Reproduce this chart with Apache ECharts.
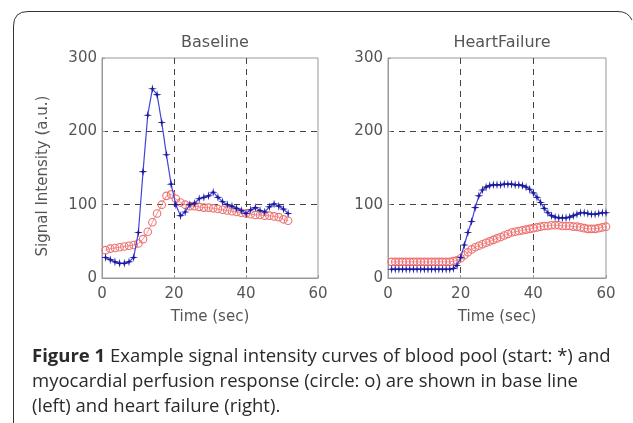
<!DOCTYPE html>
<html>
<head>
<meta charset="utf-8">
<script src="https://cdn.jsdelivr.net/npm/echarts@6/dist/echarts.min.js"></script>
<style>html,body{margin:0;padding:0;background:#fff}#c{width:633px;height:423px}</style>
</head>
<body>
<div id="c"></div>
<script>
// ---- Data ----
var xTicks = [0, 20, 40, 60];
var yTicks = [0, 100, 200, 300];

var baseTime = [1,2.3,3.6,4.9,6.2,7.5,8.8,10.1,11.4,12.7,14,15.3,16.6,17.9,19.2,20.5,21.8,23.1,24.4,25.7,27,28.3,29.6,30.9,32.2,33.5,34.8,36.1,37.4,38.7,40,41.3,42.6,43.9,45.2,46.5,47.8,49.1,50.4,51.7];
var baseBlood = [28,25,22,20,20,22,28,62,145,222,258,250,212,168,128,100,85,90,100,102,108,110,112,117,110,104,100,98,95,92,88,93,96,92,90,97,101,98,94,88];
var baseMyo = [38,40,41,42,43,44,45,47,53,63,76,88,100,112,114,108,103,100,98,98,97,96,96,95,94,93,92,91,90,89,88,87,86,86,85,85,84,83,80,78];

var hfTime = [1,2,3,4,5,6,7,8,9,10,11,12,13,14,15,16,17,18,19,20,21,22,23,24,25,26,27,28,29,30,31,32,33,34,35,36,37,38,39,40,41,42,43,44,45,46,47,48,49,50,51,52,53,54,55,56,57,58,59,60];
var hfBlood = [12,12,12,12,12,12,12,12,12,12,12,12,12,12,12,12,12,13,17,28,45,62,77,96,112,120,124,126,127,127,127,128,128,128,127,127,126,124,121,116,110,103,95,89,85,83,82,82,82,83,85,87,89,89,88,87,87,88,89,89];
var hfMyo = [22,22,22,22,22,22,22,22,22,22,22,22,22,22,22,22,22,23,24,27,31,35,39,42,44,46,48,50,52,54,56,58,60,62,63,64,65,66,67,68,69,70,71,71,72,72,72,71,71,71,70,70,69,68,67,67,67,68,69,70];

var titles = ['Baseline', 'HeartFailure'];
var xName = 'Time (sec)';
var yName = 'Signal Intensity (a.u.)';
var captionLines = [
  '{b|Figure 1} Example signal intensity curves of blood pool (start: *) and',
  'myocardial perfusion response (circle: o) are shown in base line',
  '(left) and heart failure (right).'
];

function pairs(t, v) { return t.map(function (x, i) { return [x, v[i]]; }); }

var starPath = 'path://M0,-10 L1.8,-1.8 L10,0 L1.8,1.8 L0,10 L-1.8,1.8 L-10,0 L-1.8,-1.8 Z';
var labelColor = '#555';
var fontFam = 'DejaVu Sans, sans-serif';
var capFont = '18.5px "Open Sans", sans-serif';

function xAxis(idx) {
  return {
    gridIndex: idx, type: 'value', min: 0, max: 60, interval: 20,
    name: xName, nameLocation: 'middle', nameGap: 32,
    nameTextStyle: { color: labelColor, fontSize: 15, fontFamily: fontFam },
    axisLine: { show: true, lineStyle: { color: '#999', width: 1 } },
    axisTick: { show: true, inside: true, length: 3, lineStyle: { color: '#999' } },
    axisLabel: { color: labelColor, fontSize: 15, fontFamily: fontFam, margin: 9 },
    splitLine: { show: true, showMinLine: false, showMaxLine: false, lineStyle: { color: '#444', type: [6, 5], width: 1 } }
  };
}
function yAxis(idx) {
  return {
    gridIndex: idx, type: 'value', min: 0, max: 300, interval: 100,
    axisLine: { show: true, lineStyle: { color: '#999', width: 1 } },
    axisTick: { show: true, inside: true, length: 3, lineStyle: { color: '#999' } },
    axisLabel: { color: labelColor, fontSize: 15, fontFamily: fontFam, margin: 5 },
    splitLine: { show: true, showMinLine: false, showMaxLine: false, lineStyle: { color: '#444', type: [6, 5], width: 1 } }
  };
}
function blood(idx, t, v) {
  return {
    type: 'line', xAxisIndex: idx, yAxisIndex: idx, data: pairs(t, v),
    symbol: starPath, symbolSize: 9, showAllSymbol: true,
    lineStyle: { color: '#4444d8', width: 1.2 },
    itemStyle: { color: '#1a1aa0' }, z: 3, animation: false
  };
}
function myo(idx, t, v) {
  return {
    type: 'line', xAxisIndex: idx, yAxisIndex: idx, data: pairs(t, v),
    symbol: 'circle', symbolSize: 7.5, showAllSymbol: true,
    lineStyle: { color: '#f29a9a', width: 1 },
    itemStyle: { color: 'rgba(255,255,255,0)', borderColor: '#ee7070', borderWidth: 1.1 },
    z: 2, animation: false
  };
}

var chart = echarts.init(document.getElementById('c'), null, { renderer: 'canvas' });
chart.setOption({
  backgroundColor: '#fff',
  animation: false,
  title: [
    { text: titles[0], left: 210, top: 30, textAlign: 'center', textStyle: { color: labelColor, fontSize: 16, fontWeight: 'normal', fontFamily: fontFam } },
    { text: titles[1], left: 497, top: 30, textAlign: 'center', textStyle: { color: labelColor, fontSize: 16, fontWeight: 'normal', fontFamily: fontFam } }
  ],
  grid: [
    { left: 102, top: 58, width: 216, height: 220, show: true, borderColor: '#999', borderWidth: 1, backgroundColor: '#fff' },
    { left: 388, top: 58, width: 218, height: 220, show: true, borderColor: '#999', borderWidth: 1, backgroundColor: '#fff' }
  ],
  xAxis: [xAxis(0), xAxis(1)],
  yAxis: [yAxis(0), yAxis(1)],
  series: [
    myo(0, baseTime, baseMyo), blood(0, baseTime, baseBlood),
    myo(1, hfTime, hfMyo), blood(1, hfTime, hfBlood)
  ],
  graphic: [
    { type: 'polyline', shape: { points: [[13.5, 423], [13.5, 26]] }, style: { fill: null, stroke: '#333', lineWidth: 1 }, silent: true },
    { type: 'bezierCurve', shape: { x1: 13.5, y1: 26, cpx1: 13.5, cpy1: 11.5, x2: 28, y2: 11.5 }, style: { fill: null, stroke: '#333', lineWidth: 1 }, silent: true },
    { type: 'polyline', shape: { points: [[28, 11.5], [618, 11.5]] }, style: { fill: null, stroke: '#333', lineWidth: 1 }, silent: true },
    { type: 'bezierCurve', shape: { x1: 618, y1: 11.5, cpx1: 628, cpy1: 11.5, x2: 632, y2: 20 }, style: { fill: null, stroke: '#333', lineWidth: 1 }, silent: true },
    { type: 'text', x: 43, y: 176, rotation: Math.PI / 2, silent: true,
      style: { text: yName, fill: labelColor, font: '15px "DejaVu Sans", sans-serif', align: 'center', verticalAlign: 'middle' } },
    { type: 'text', left: 32, top: 347, style: { text: captionLines[0], fill: '#2a2a2a', font: capFont,
      rich: { b: { fontWeight: 'bold', fontSize: 18.5, fontFamily: 'Open Sans', fill: '#2a2a2a' } } } },
    { type: 'text', left: 32, top: 372, style: { text: captionLines[1], fill: '#2a2a2a', font: capFont } },
    { type: 'text', left: 32, top: 397, style: { text: captionLines[2], fill: '#2a2a2a', font: capFont } }
  ]
});
</script>
</body>
</html>
